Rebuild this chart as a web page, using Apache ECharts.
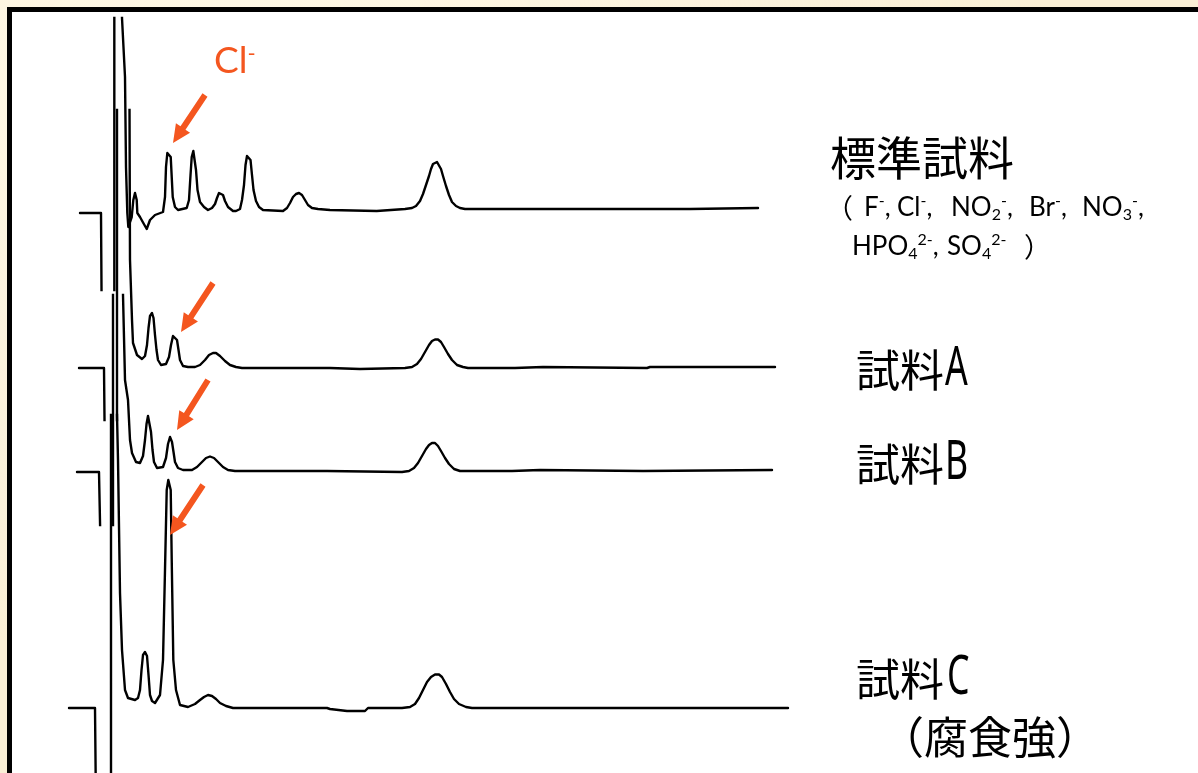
<!DOCTYPE html>
<html>
<head>
<meta charset="utf-8">
<script src="https://cdn.jsdelivr.net/npm/echarts@6.0.0/dist/echarts.min.js"></script>
<style>
  html, body { margin: 0; padding: 0; width: 1198px; height: 773px; overflow: hidden; }
  body {
    background: #faefd6;
    background-image:
      radial-gradient(ellipse at 20% 10%, rgba(255, 250, 235, 0.8), rgba(255, 250, 235, 0) 60%),
      radial-gradient(ellipse at 80% 90%, rgba(240, 220, 180, 0.5), rgba(240, 220, 180, 0) 60%);
  }
  #frame { position: absolute; left: 7px; top: 7px; width: 1210px; height: 790px; border: 5px solid #000; background: #fff; }
  #chart { position: absolute; left: 0; top: 0; width: 1198px; height: 773px; }
</style>
</head>
<body>
<div id="frame"></div>
<div id="chart"></div>
<script>
// Ion chromatograms: retention time (min) vs. conductivity signal,
// each trace measured from its own baseline. Off-scale excursions of the
// water dip / system peak run past the recorder limits and get clipped.

const standardTime = [0.5, 1.025, 1.05, 1.358, 1.358, 1.545, 1.55, 1.625, 1.65, 1.683, 1.708, 1.793, 1.833, 1.875, 1.918,
  1.933, 2.0, 2.083, 2.168, 2.25, 2.375, 2.575, 2.625, 2.65, 2.683, 2.725, 2.768, 2.793, 2.818, 2.875, 2.95,
  3.168, 3.225, 3.263, 3.293, 3.333, 3.375, 3.4, 3.438, 3.5, 3.6, 3.7, 3.8, 3.875, 3.925, 3.975, 4.025, 4.075, 4.125,
  4.2, 4.325, 4.4, 4.5, 4.55, 4.6, 4.638, 4.675, 4.725, 4.763, 4.8, 4.838, 4.9, 4.975, 5.075, 5.575, 5.675, 5.75,
  5.825, 5.9, 5.975, 6.05, 6.125, 6.2, 6.3, 6.45, 6.75, 7.918, 7.95, 8.625, 8.8, 8.9, 9.0, 9.075, 9.15, 9.225, 9.275,
  9.325, 9.375, 9.425, 9.475, 9.525, 9.575, 9.65, 9.725, 9.8, 9.9, 10.0, 10.125, 15.75, 15.76, 17.45];
const standardSignal = [-0.2, -0.2, -15, -15, 25, 25, 19.3, 13.4, 4.4, -0.2, -1.6, -0.6, 1.1, 1.8, 1.1,
  -0.2, -0.6, -1.2, -1.8, -0.9, -0.4, -0.1, 1.4, 4.4, 5.8, 5.9, 5.4, 3.4, 1.4, 0.4, 0.1,
  0.3, 1.1, 3.6, 5.4, 6.0, 5.8, 4.1, 2.1, 0.9, 0.4, 0.1, 0.3, 0.7, 1.3, 1.8, 1.9, 1.6, 1.0,
  0.4, 0, 0, 0.2, 1.1, 2.6, 4.6, 5.5, 5.6, 5.1, 3.6, 2.1, 1.0, 0.4, 0.1, 0, 0.3, 0.8,
  1.4, 1.7, 1.8, 1.6, 1.1, 0.6, 0.3, 0.2, 0.1, 0, 0.2, 0.2, 0.3, 0.5, 1.0, 1.7, 2.6, 3.5, 4.2,
  4.7, 4.9, 4.9, 4.7, 4.2, 3.5, 2.5, 1.6, 0.9, 0.5, 0.3, 0.2, 0.2, 0.3, 0.3];

const sampleATime = [0.475, 1.1, 1.125, 1.425, 1.425, 1.725, 1.738, 1.75, 1.775, 1.8, 1.825, 1.925, 2.05, 2.125, 2.175,
  2.213, 2.25, 2.3, 2.338, 2.375, 2.413, 2.45, 2.525, 2.65, 2.725, 2.775, 2.825, 2.875, 2.925, 2.963, 3.0, 3.075,
  3.2, 3.375, 3.5, 3.625, 3.725, 3.825, 3.9, 4.0, 4.125, 4.25, 4.4, 4.55, 6.75, 6.775, 7.5, 8.625, 8.8, 8.925,
  9.025, 9.125, 9.225, 9.3, 9.375, 9.45, 9.525, 9.6, 9.7, 9.8, 9.925, 10.075, 10.2, 11.375, 11.425, 12.075,
  12.125, 14.675, 14.75, 17.875];
const sampleASignal = [0, 0, -10, -10, 30, 30, 25.8, 10.8, 7.8, 4.8, 2.5, 1.3, 0.9, 1.2, 2.3,
  4.0, 5.2, 5.5, 5.0, 3.3, 1.8, 0.8, 0.3, 0.4, 1.1, 2.3, 3.2, 3.4, 2.8, 1.8, 0.8, 0.2,
  0.1, 0.1, 0.3, 0.8, 1.3, 1.5, 1.5, 1.2, 0.7, 0.3, 0.1, 0, 0, -0.1, -0.1, 0, 0.1, 0.4,
  0.9, 1.6, 2.3, 2.7, 2.85, 2.85, 2.6, 2.1, 1.4, 0.8, 0.3, 0.1, 0, 0, 0.1, 0.1,
  0, 0, 0.1, 0.1];

const sampleBTime = [0.425, 0.975, 1.025, 1.325, 1.325, 1.575, 1.575, 1.625, 1.7, 1.75, 1.8, 1.9, 2.0, 2.075, 2.125,
  2.163, 2.2, 2.238, 2.275, 2.313, 2.35, 2.425, 2.575, 2.65, 2.7, 2.75, 2.8, 2.838, 2.875, 2.95, 3.075, 3.3,
  3.425, 3.55, 3.65, 3.75, 3.85, 3.95, 4.075, 4.2, 4.375, 6.675, 6.7, 8.55, 8.725, 8.85, 8.95, 9.05, 9.15,
  9.225, 9.3, 9.375, 9.45, 9.525, 9.625, 9.725, 9.85, 10.0, 11.3, 11.35, 12.0, 12.05, 14.575, 14.625, 17.8];
const sampleBSignal = [-0.1, -0.1, -10, -10, 20, 20, 17.6, 9.1, 7.1, 3.1, 1.8, 0.9, 0.8, 1.5, 3.1,
  4.7, 5.5, 5.3, 3.9, 2.1, 0.9, 0.3, 0.4, 1.3, 2.7, 3.4, 2.9, 1.9, 0.9, 0.3, 0.1, 0.1,
  0.4, 0.9, 1.3, 1.45, 1.3, 0.9, 0.4, 0.1, 0, 0, -0.1, -0.1, 0, 0.3, 0.8, 1.5, 2.2,
  2.6, 2.8, 2.8, 2.5, 2.0, 1.3, 0.7, 0.2, 0, 0, 0.1, 0.1, 0, 0, 0.1, 0.1];

const sampleCTime = [0.225, 0.875, 0.9, 1.275, 1.275, 1.425, 1.425, 1.45, 1.5, 1.55, 1.625, 1.7, 1.875, 1.95, 2.0,
  2.038, 2.075, 2.125, 2.175, 2.213, 2.25, 2.3, 2.375, 2.5, 2.575, 2.625, 2.668, 2.708, 2.768, 2.793, 2.833, 2.9,
  3.0, 3.2, 3.375, 3.5, 3.6, 3.7, 3.8, 3.9, 4.0, 4.15, 4.325, 6.675, 6.75, 7.175, 7.625, 7.7, 8.55, 8.75, 8.875,
  8.975, 9.075, 9.175, 9.275, 9.375, 9.475, 9.55, 9.65, 9.75, 9.85, 9.975, 10.15, 10.3, 18.2];
const sampleCSignal = [0, 0, -10, -10, 33, 33, 29.3, 24.8, 11.5, 5.8, 1.8, 1.0, 0.8, 1.0, 1.8,
  3.8, 5.3, 5.6, 5.2, 3.3, 1.3, 0.7, 0.5, 1.3, 4.8, 13.8, 21.8, 22.8, 21.8, 14.8, 4.8, 1.8,
  0.3, 0.1, 0.4, 0.8, 1.1, 1.3, 1.2, 0.9, 0.5, 0.2, 0, 0, -0.1, -0.3, -0.3, 0, 0, 0.1, 0.4,
  1.0, 1.8, 2.6, 3.1, 3.35, 3.35, 3.1, 2.4, 1.6, 0.9, 0.4, 0.1, 0, 0];

const traceNames = ['標準試料', '試料A', '試料B', '試料C'];
const traceTimes = [standardTime, sampleATime, sampleBTime, sampleCTime];
const traceSignals = [standardSignal, sampleASignal, sampleBSignal, sampleCSignal];

// ---- layout (pixels) ----
const ACCENT = '#f4561f';
const PLOT_LEFT = 60, PLOT_WIDTH = 740, TIME_MAX = 18.5, PX_PER_UNIT = 10;
// baseline row and recorder window of each trace
const traceLayout = [
  { base: 211, top: 18, bottom: 290 },
  { base: 368, top: 110, bottom: 420 },
  { base: 471, top: 295, bottom: 525 },
  { base: 708, top: 415, bottom: 773 }
];
// chloride arrows, in each trace's own (time, signal) units
const arrowTail = [[3.625, 11.6], [3.825, 8.5], [3.7, 9.1], [3.575, 22.3]];
const arrowTip = [[2.825, 6.8], [3.025, 3.6], [2.925, 4.1], [2.75, 17.3]];

const chart = echarts.init(document.getElementById('chart'), null, { renderer: 'canvas' });

const grids = [], xAxes = [], yAxes = [], series = [];
traceLayout.forEach((L, i) => {
  grids.push({ left: PLOT_LEFT, width: PLOT_WIDTH, top: L.top, height: L.bottom - L.top, containLabel: false });
  xAxes.push({ type: 'value', gridIndex: i, min: 0, max: TIME_MAX, show: false });
  yAxes.push({
    type: 'value', gridIndex: i, show: false,
    min: -(L.bottom - L.base) / PX_PER_UNIT,
    max: (L.base - L.top) / PX_PER_UNIT
  });
  series.push({
    name: traceNames[i],
    type: 'line',
    xAxisIndex: i,
    yAxisIndex: i,
    data: traceTimes[i].map((t, k) => [t, traceSignals[i][k]]),
    showSymbol: false,
    symbol: 'none',
    clip: true,
    silent: true,
    lineStyle: { color: '#000', width: 2.4, join: 'round', cap: 'round' }
  });
});

chart.setOption({
  animation: false,
  backgroundColor: 'transparent',
  grid: grids,
  xAxis: xAxes,
  yAxis: yAxes,
  series: series
});

// arrows pointing at the chloride peak of each trace
const arrows = arrowTip.map((tip, i) => {
  const a = chart.convertToPixel({ gridIndex: i }, arrowTail[i]);
  const b = chart.convertToPixel({ gridIndex: i }, tip);
  const dx = b[0] - a[0], dy = b[1] - a[1], len = Math.hypot(dx, dy);
  const ux = dx / len, uy = dy / len, nx = -uy, ny = ux;
  const shaft = 3, headLen = 18, head = 8.5;
  const kx = b[0] - ux * headLen, ky = b[1] - uy * headLen;
  return {
    type: 'polygon', z: 10, silent: true,
    shape: { points: [
      [a[0] + nx * shaft, a[1] + ny * shaft], [kx + nx * shaft, ky + ny * shaft],
      [kx + nx * head, ky + ny * head], [b[0], b[1]],
      [kx - nx * head, ky - ny * head], [kx - nx * shaft, ky - ny * shaft],
      [a[0] - nx * shaft, a[1] - ny * shaft]
    ] },
    style: { fill: ACCENT }
  };
});

const CJK = '"Noto Sans CJK JP"';
const LATIN = 'Lato, "Noto Sans", ' + CJK;
const ionRich = {
  p: { font: '16px ' + LATIN, fill: '#000', verticalAlign: 'top' },
  b: { font: '16px ' + LATIN, fill: '#000', verticalAlign: 'bottom' }
};
function label(x, y, text, font, extra) {
  return Object.assign({
    type: 'text', x: x, y: y, z: 10, silent: true,
    style: { text: text, font: font, fill: '#000', verticalAlign: 'middle', align: 'left' }
  }, extra || {});
}
function ion(x, y, text) {
  return {
    type: 'text', x: x, y: y, z: 10, silent: true,
    style: { text: text, font: '26px ' + LATIN, lineHeight: 30, fill: '#000', verticalAlign: 'middle', rich: ionRich }
  };
}
function letter(x, y, ch) {
  return label(x, y, ch, '54px "Noto Sans"', { scaleX: 0.66 });
}

const texts = [
  {
    type: 'text', x: 214, y: 61, z: 10, silent: true,
    style: {
      text: 'Cl{s|-}', font: '37px ' + LATIN, fill: ACCENT, verticalAlign: 'middle',
      rich: { s: { font: '22px ' + LATIN, fill: ACCENT, verticalAlign: 'top' } }
    }
  },
  label(830, 158, '標準試料', '46px ' + CJK),
  label(826, 208, '（', '27px ' + CJK),
  ion(864, 208, 'F{p|-},'),
  ion(897, 208, 'Cl{p|-},'),
  ion(951, 208, 'NO{b|2}{p|-},'),
  ion(1029, 208, 'Br{p|-},'),
  ion(1082, 208, 'NO{b|3}{p|-},'),
  ion(852, 247, 'HPO{b|4}{p|2-},'),
  ion(947, 247, 'SO{b|4}{p|2-}'),
  label(1024, 247, '）', '27px ' + CJK),
  label(856, 370, '試料', '44px ' + CJK), letter(945, 370, 'A'),
  label(856, 464, '試料', '44px ' + CJK), letter(945, 464, 'B'),
  label(856, 679, '試料', '44px ' + CJK), letter(947, 679, 'C'),
  label(880, 737, '（腐食強）', '44px ' + CJK)
];

chart.setOption({ graphic: { elements: arrows.concat(texts) } });
</script>
</body>
</html>
